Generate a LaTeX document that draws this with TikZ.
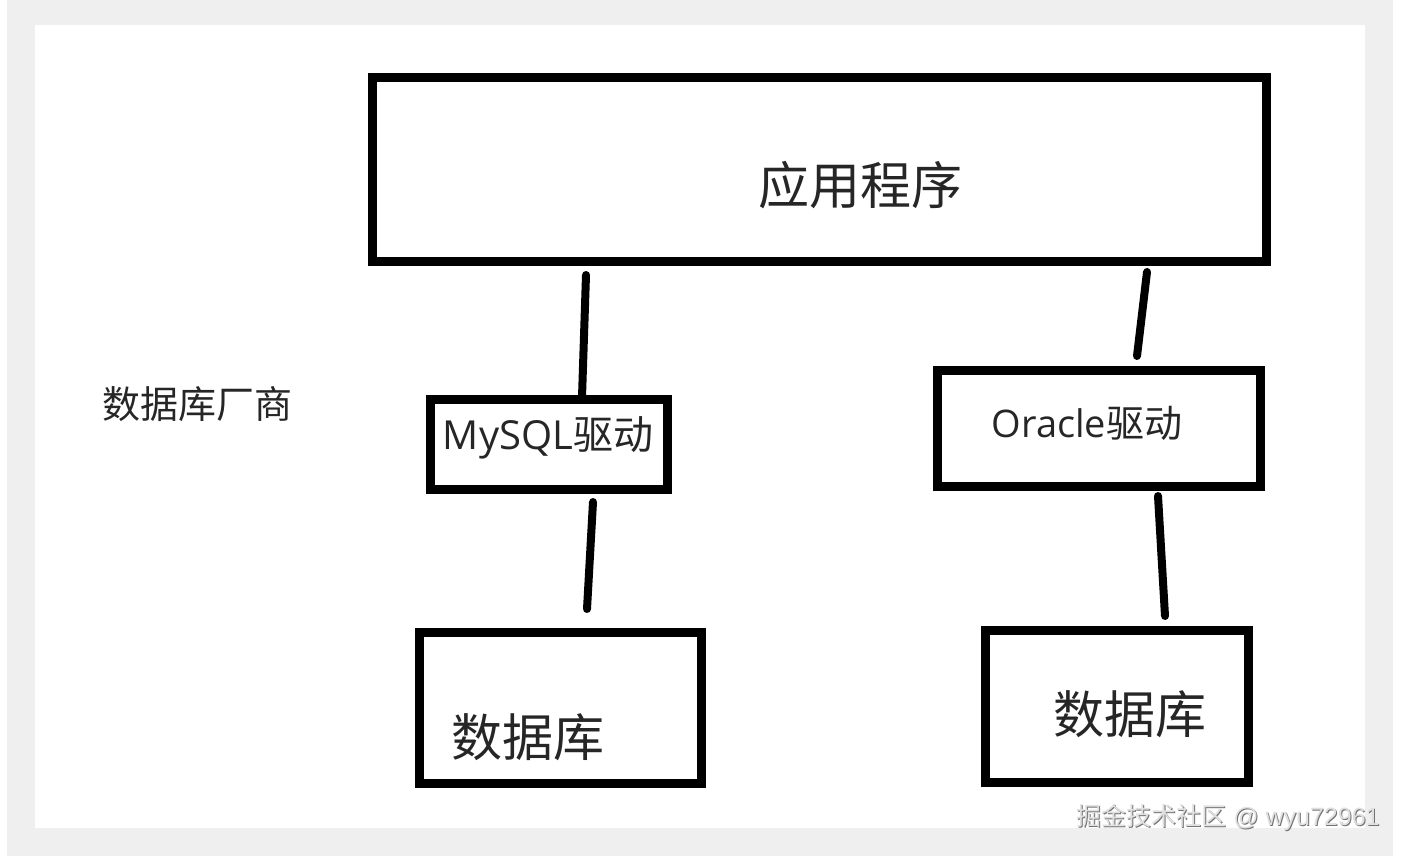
\documentclass[tikz,border=0pt]{standalone}
\usepackage{fontspec}
\newfontfamily\cjk{Noto Sans CJK SC}
\newfontfamily\latinf{Open Sans}
\newfontfamily\wmlat{Liberation Sans}
\definecolor{bggray}{HTML}{EFEFEF}
\tikzset{
  boxframe/.style={draw=black, line width=9pt, rectangle, inner sep=0pt, fill=white},
  conn/.style={draw=black, line width=8pt, line cap=round},
  lbl/.style={inner sep=0pt, text=black!85},
}
\begin{document}
\begin{tikzpicture}[x=1pt, y=-1pt]
  % background and margins
  \fill[white] (0,0) rectangle (1405,856);
  \fill[bggray] (7,0) rectangle (1393,856);
  \fill[white] (35,25) rectangle (1365,828);
  \useasboundingbox (0,0) rectangle (1405,856);

  % boxes
  \node[boxframe, minimum width=894pt, minimum height=184pt] (app) at (819.5,169.5) {};
  \node[boxframe, minimum width=237pt, minimum height=90pt] (mysql) at (549,444.5) {};
  \node[boxframe, minimum width=323pt, minimum height=116pt] (oracle) at (1099,428.5) {};
  \node[boxframe, minimum width=282pt, minimum height=151pt] (dbl) at (560.5,708) {};
  \node[boxframe, minimum width=263pt, minimum height=152pt] (dbr) at (1117,706.5) {};

  % labels
  \node[lbl] (appt) at (860,185) {\cjk\fontsize{51}{51}\selectfont 应用程序};
  \node[lbl] (mysqlt) at (548,438) {\fontsize{40}{40}\selectfont{\latinf MySQL}{\cjk 驱动}};
  \node[lbl] (oraclet) at (1087,423) {\fontsize{38}{38}\selectfont{\latinf Oracle}{\cjk 驱动}};
  \node[lbl] (dblt) at (528,737) {\cjk\fontsize{51}{51}\selectfont 数据库};
  \node[lbl] (dbrt) at (1130,714) {\cjk\fontsize{51}{51}\selectfont 数据库};
  \node[lbl] (vendor) at (197,404) {\cjk\fontsize{38}{38}\selectfont 数据库厂商};

  % connector end points (hand-drawn strokes)
  \coordinate (c1a) at (586,275);
  \coordinate (c1b) at (582,397);
  \coordinate (c2a) at (593,502);
  \coordinate (c2b) at (587,609);
  \coordinate (c3a) at (1147,272);
  \coordinate (c3b) at (1137,356);
  \coordinate (c4a) at (1158,496);
  \coordinate (c4b) at (1165,616);
  \draw[conn] (c1a) -- (c1b);
  \draw[conn] (c2a) -- (c2b);
  \draw[conn] (c3a) -- (c3b);
  \draw[conn] (c4a) -- (c4b);

  % watermark
  \node[inner sep=0pt, text=black!55] (wms) at (1229,818) {\fontsize{25}{25}\selectfont{\cjk 掘金技术社区}{\wmlat\ @ wyu72961}};
  \node[inner sep=0pt, text=white!88!black] (wm) at (1228,817) {\fontsize{25}{25}\selectfont{\cjk 掘金技术社区}{\wmlat\ @ wyu72961}};
\end{tikzpicture}
\end{document}
